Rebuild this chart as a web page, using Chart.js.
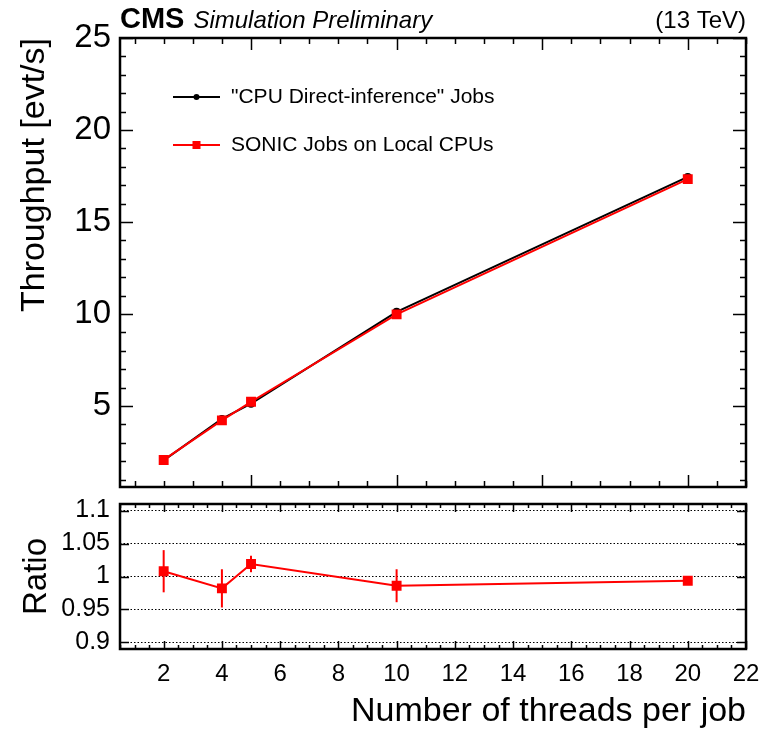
<!DOCTYPE html>
<html>
<head>
<meta charset="utf-8">
<script src="https://cdn.jsdelivr.net/npm/chart.js@4.4.1/dist/chart.umd.min.js"></script>
<style>
  html, body { margin: 0; padding: 0; background: #fff; }
  #wrap { position: relative; width: 765px; height: 732px; }
  canvas { position: absolute; left: 0; }
  #main { top: 0; }
  #ratio { top: 495px; }
</style>
</head>
<body>
<div id="wrap">
  <canvas id="main" width="765" height="495"></canvas>
  <canvas id="ratio" width="765" height="237"></canvas>
</div>
<script>
// values
const threads = [2, 4, 5, 10, 20];
const cpuDirect = [2.05, 4.30, 5.13, 10.12, 17.45];
const sonicLocal = [2.07, 4.22, 5.23, 9.98, 17.33];
const ratio = [1.008, 0.982, 1.019, 0.986, 0.9935];
const ratioErr = [0.032, 0.029, 0.0125, 0.025, 0.003];

const xTicks = [2, 4, 6, 8, 10, 12, 14, 16, 18, 20, 22];
const yTicks = [5, 10, 15, 20, 25];
const ratioTicks = [0.9, 0.95, 1, 1.05, 1.1];

const FONT = '"Liberation Sans", Arial, Helvetica, sans-serif';
Chart.defaults.font.family = FONT;
Chart.defaults.color = '#000';

const pts = (ys) => threads.map((x, i) => ({ x: x, y: ys[i] }));

// fixed axis box sizes so the plot frames land where the reference has them
const fixW = (w) => (s) => { s.width = w; s.paddingTop = 0; s.paddingBottom = 0; };
const fixH = (h) => (s) => { s.height = h; s.paddingLeft = 0; s.paddingRight = 0; };

// ROOT-like frame with inward ticks on all four sides
function framePlugin(cfg) {
  return {
    id: 'frame',
    afterDatasetsDraw(chart) {
      const { ctx, chartArea: a, scales } = chart;
      const xs = scales.x, ys = scales.y;
      ctx.save();
      ctx.strokeStyle = '#000';
      ctx.lineWidth = 1.5;
      const tick = (sc, minor, major, lmin, lmaj, horiz) => {
        const start = Math.ceil(sc.min / minor - 1e-9) * minor;
        for (let v = start; v <= sc.max + 1e-9; v += minor) {
          const isMaj = Math.abs(v / major - Math.round(v / major)) < 1e-6;
          const len = isMaj ? lmaj : lmin;
          const p = Math.round(sc.getPixelForValue(v)) + 0.5;
          ctx.beginPath();
          if (horiz) {
            ctx.moveTo(p, a.bottom); ctx.lineTo(p, a.bottom - len);
            ctx.moveTo(p, a.top); ctx.lineTo(p, a.top + len);
          } else {
            ctx.moveTo(a.left, p); ctx.lineTo(a.left + len, p);
            ctx.moveTo(a.right, p); ctx.lineTo(a.right - len, p);
          }
          ctx.stroke();
        }
      };
      tick(xs, cfg.xMinor, cfg.xMajor, cfg.xLmin, cfg.xLmaj, true);
      tick(ys, cfg.yMinor, cfg.yMajor, cfg.yLmin, cfg.yLmaj, false);
      ctx.lineWidth = 2.5;
      ctx.strokeRect(a.left, a.top, a.right - a.left, a.bottom - a.top);
      ctx.restore();
    }
  };
}

const headerPlugin = {
  id: 'header',
  afterDraw(chart) {
    const { ctx, chartArea: a } = chart;
    ctx.save();
    ctx.fillStyle = '#000';
    ctx.textBaseline = 'alphabetic';
    ctx.textAlign = 'left';
    ctx.font = 'bold 29px ' + FONT;
    ctx.fillText('CMS', a.left, 28);
    const w = ctx.measureText('CMS').width;
    ctx.font = 'italic 24px ' + FONT;
    ctx.fillText('Simulation Preliminary', a.left + w + 9, 28);
    ctx.textAlign = 'right';
    ctx.font = '24px ' + FONT;
    ctx.fillText('(13 TeV)', a.right, 28);

    // legend inside the frame
    chart.data.datasets.forEach((ds, k) => {
      const y = a.top + 59 + k * 48;
      const x0 = a.left + 53, x1 = a.left + 100, xm = (x0 + x1) / 2;
      ctx.strokeStyle = ds.borderColor;
      ctx.fillStyle = ds.backgroundColor;
      ctx.lineWidth = 2;
      ctx.beginPath(); ctx.moveTo(x0, y); ctx.lineTo(x1, y); ctx.stroke();
      if (ds.pointStyle === 'rect') {
        ctx.fillRect(xm - 4, y - 4, 8, 8);
      } else {
        ctx.beginPath(); ctx.arc(xm, y, 3, 0, Math.PI * 2); ctx.fill();
      }
      ctx.fillStyle = '#000';
      ctx.textAlign = 'left';
      ctx.textBaseline = 'middle';
      ctx.font = '21px ' + FONT;
      ctx.fillText(ds.label, a.left + 111, y);
    });
    ctx.restore();
  }
};

new Chart(document.getElementById('main'), {
  type: 'line',
  data: {
    datasets: [
      {
        label: '"CPU Direct-inference" Jobs',
        data: pts(cpuDirect),
        borderColor: '#000',
        backgroundColor: '#000',
        borderWidth: 2,
        pointStyle: 'circle',
        pointRadius: 3,
        order: 1
      },
      {
        label: 'SONIC Jobs on Local CPUs',
        data: pts(sonicLocal),
        borderColor: '#ff0000',
        backgroundColor: '#ff0000',
        borderWidth: 2,
        pointStyle: 'rect',
        pointRadius: 5.6,
        order: 0
      }
    ]
  },
  options: {
    responsive: false,
    animation: false,
    devicePixelRatio: 1,
    layout: { padding: { top: 38, right: 19, left: 0, bottom: 0 } },
    plugins: { legend: { display: false }, tooltip: { enabled: false } },
    scales: {
      x: {
        type: 'linear', min: 0.5, max: 22,
        ticks: { display: false },
        grid: { display: false, drawTicks: false },
        border: { display: false },
        afterFit: fixH(8)
      },
      y: {
        type: 'linear', min: 0.6, max: 25,
        afterBuildTicks: (s) => { s.ticks = yTicks.map(v => ({ value: v })); },
        ticks: { font: { size: 33 }, color: '#000', padding: 9, autoSkip: false },
        grid: { display: false, drawTicks: false },
        border: { display: false },
        title: {
          display: true, text: 'Throughput [evt/s]', align: 'end',
          font: { size: 34 }, color: '#000', padding: { top: 14, bottom: 0 }
        },
        afterFit: fixW(120)
      }
    }
  },
  plugins: [framePlugin({ xMinor: 1, xMajor: 5, xLmin: 6, xLmaj: 12, yMinor: 1, yMajor: 5, yLmin: 6, yLmaj: 13 }), headerPlugin]
});

const errorBars = {
  id: 'errorBars',
  afterDatasetsDraw(chart) {
    const { ctx, scales } = chart;
    ctx.save();
    ctx.strokeStyle = '#ff0000';
    ctx.lineWidth = 2;
    threads.forEach((t, i) => {
      const x = scales.x.getPixelForValue(t);
      ctx.beginPath();
      ctx.moveTo(x, scales.y.getPixelForValue(ratio[i] + ratioErr[i]));
      ctx.lineTo(x, scales.y.getPixelForValue(ratio[i] - ratioErr[i]));
      ctx.stroke();
    });
    ctx.restore();
  }
};

new Chart(document.getElementById('ratio'), {
  type: 'line',
  data: {
    datasets: [{
      label: 'Ratio',
      data: pts(ratio),
      borderColor: '#ff0000',
      backgroundColor: '#ff0000',
      borderWidth: 2,
      pointStyle: 'rect',
      pointRadius: 5.6
    }]
  },
  options: {
    responsive: false,
    animation: false,
    devicePixelRatio: 1,
    layout: { padding: { top: 9, right: 19, left: 0, bottom: 0 } },
    plugins: { legend: { display: false }, tooltip: { enabled: false } },
    scales: {
      x: {
        type: 'linear', min: 0.5, max: 22,
        afterBuildTicks: (s) => { s.ticks = xTicks.map(v => ({ value: v })); },
        ticks: { font: { size: 24 }, color: '#000', padding: 11, maxRotation: 0, autoSkip: false },
        grid: { display: false, drawTicks: false },
        border: { display: false },
        title: {
          display: true, text: 'Number of threads per job', align: 'end',
          font: { size: 34 }, color: '#000', padding: { top: 0, bottom: 0 }
        },
        afterFit: fixH(83)
      },
      y: {
        type: 'linear', min: 0.89, max: 1.11,
        afterBuildTicks: (s) => { s.ticks = ratioTicks.map(v => ({ value: v })); },
        ticks: { font: { size: 25 }, color: '#000', padding: 10, autoSkip: false, callback: (v) => String(v) },
        grid: { display: true, color: '#000', lineWidth: 1, drawTicks: false },
        border: { display: false, dash: [1.5, 2] },
        title: {
          display: true, text: 'Ratio',
          font: { size: 33 }, color: '#000', padding: { top: 17, bottom: 0 }
        },
        afterFit: fixW(120)
      }
    }
  },
  plugins: [errorBars, framePlugin({ xMinor: 0.5, xMajor: 2, xLmin: 4, xLmaj: 8, yMinor: 0.05, yMajor: 0.05, yLmin: 9, yLmaj: 9 })]
});
</script>
</body>
</html>
